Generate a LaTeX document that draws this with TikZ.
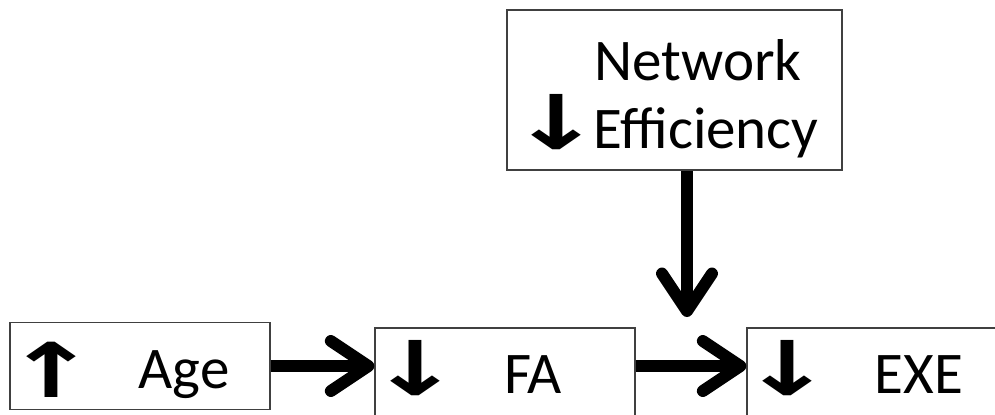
\documentclass[tikz,border=0pt]{standalone}
\usepackage{fontspec}
\setmainfont{Carlito}
\newfontfamily\arrfont{DejaVu Sans}
\usetikzlibrary{positioning,arrows.meta}
\newcommand{\tnode}[3]{\node [txt] (#1) at (#2) {#3}}
\newcommand{\anode}[3]{\node [arr] (#1) at (#2) {\scalebox{1.45}[1]{\arrfont\bfseries #3}}}

\begin{document}
\begin{tikzpicture}[x=0.02cm,y=-0.02cm,
  box/.style={draw=black!75, line width=0.8pt, inner sep=0pt},
  txt/.style={anchor=base, inner sep=0pt, font=\fontsize{33.6}{40}\selectfont},
  arr/.style={inner sep=0pt, font=\fontsize{43}{44}\selectfont},
  link/.style={line width=6.8pt, -{Straight Barb[round, length=0.75cm, width=1cm]}}]
\useasboundingbox (0,0) rectangle (995,414);

\node [box, minimum width=5.2cm, minimum height=1.74cm] (age) at (140,366) {};
\node [box, minimum width=5.2cm, minimum height=1.84cm] (fa) at (505,374) {};
\node [box, minimum width=5.2cm, minimum height=1.84cm] (exe) at (877,374) {};
\node [box, minimum width=6.7cm, minimum height=3.2cm] (net) at (674.5,90) {};

\anode{up}{51,370}{↑};
\tnode{agetxt}{184,388}{Age};
\anode{fadown}{415,368}{↓};
\tnode{fatxt}{533,393}{FA};
\anode{exedown}{787,368}{↓};
\tnode{exetxt}{919,393}{EXE};
\tnode{nettxt}{698,80}{Network};
\anode{netdown}{556,122}{↓};
\tnode{efftxt}{706,148}{Efficiency};

\coordinate (join) at (687,317);

\draw [link] (age.east) -- (age.east -| fa.west);
\draw [link] (fa.east |- age.east) -- (exe.west |- age.east);
\draw [link] (net.south -| join) -- (join);

\end{tikzpicture}
\end{document}
